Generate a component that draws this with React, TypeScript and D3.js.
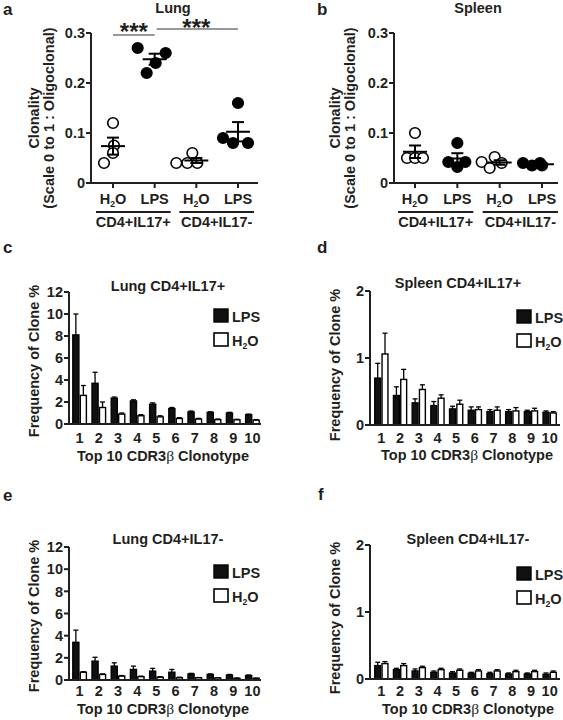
import React from "react";
import * as d3 from "d3";

const FONT = "'Liberation Sans', Arial, Helvetica, sans-serif";
const SERIF = "'Liberation Serif', 'DejaVu Serif', serif";
const FS = 14.5;

// ---------- Panel a / b : clonality scatter ----------
const scatterGroups = ["H2O", "LPS", "H2O", "LPS"];
const subsetLabels = ["CD4+IL17+", "CD4+IL17-"];
const clonalityTicks = [0, 0.1, 0.2, 0.3];
const lungClonality = [
  [0.12, 0.075, 0.06, 0.04],
  [0.27, 0.26, 0.24, 0.22],
  [0.06, 0.04, 0.04, 0.04],
  [0.16, 0.09, 0.08, 0.08],
];
const lungJitter = [
  [0, 1, 0, -9],
  [-17, 11, 1, -8],
  [-4, -20, -9, 1],
  [0, -15, -5, 10],
];
const spleenClonality = [
  [0.1, 0.05, 0.05, 0.05],
  [0.08, 0.042, 0.032, 0.042],
  [0.042, 0.052, 0.03, 0.04],
  [0.04, 0.035, 0.04, 0.035],
];
const spleenJitter = [
  [0, -8, 0, 8],
  [0, -9, 0, 8],
  [-18, -5, -10, 2],
  [-19, -10, -2, 0],
];

// ---------- Panels c-f : top 10 clonotypes ----------
const clonotypes = [1, 2, 3, 4, 5, 6, 7, 8, 9, 10];
const lungPosLPS = [8.1, 3.7, 2.35, 2.1, 1.8, 1.4, 1.1, 1.05, 1.0, 0.85];
const lungPosLPSErr = [1.9, 1.0, 0.1, 0.1, 0.12, 0.1, 0.08, 0.06, 0.06, 0.05];
const lungPosH2O = [2.6, 1.5, 0.9, 0.75, 0.65, 0.5, 0.45, 0.4, 0.38, 0.35];
const lungPosH2OErr = [0.9, 0.5, 0.1, 0.1, 0.1, 0.08, 0.06, 0.05, 0.05, 0.05];

const spleenPosLPS = [0.7, 0.44, 0.33, 0.29, 0.24, 0.22, 0.2, 0.2, 0.2, 0.19];
const spleenPosLPSErr = [0.22, 0.13, 0.06, 0.06, 0.04, 0.05, 0.03, 0.03, 0.02, 0.02];
const spleenPosH2O = [1.06, 0.68, 0.53, 0.4, 0.31, 0.23, 0.22, 0.21, 0.21, 0.18];
const spleenPosH2OErr = [0.31, 0.15, 0.07, 0.05, 0.06, 0.04, 0.05, 0.05, 0.04, 0.02];

const lungNegLPS = [3.4, 1.7, 1.25, 0.95, 0.8, 0.7, 0.55, 0.5, 0.45, 0.4];
const lungNegLPSErr = [1.1, 0.35, 0.3, 0.3, 0.25, 0.25, 0.05, 0.05, 0.05, 0.05];
const lungNegH2O = [0.7, 0.5, 0.35, 0.3, 0.25, 0.2, 0.2, 0.18, 0.15, 0.15];
const lungNegH2OErr = [0.05, 0.05, 0.05, 0.05, 0.05, 0.05, 0.02, 0.02, 0.03, 0.02];

const spleenNegLPS = [0.2, 0.14, 0.12, 0.1, 0.09, 0.085, 0.08, 0.075, 0.075, 0.07];
const spleenNegLPSErr = [0.05, 0.02, 0.03, 0.02, 0.02, 0.015, 0.02, 0.015, 0.015, 0.02];
const spleenNegH2O = [0.23, 0.2, 0.17, 0.14, 0.13, 0.12, 0.12, 0.11, 0.11, 0.1];
const spleenNegH2OErr = [0.03, 0.03, 0.02, 0.02, 0.02, 0.02, 0.02, 0.02, 0.02, 0.02];

const lungTicks = [0, 2, 4, 6, 8, 10, 12];
const spleenTicks = [0, 1, 2];

const textStyle = { fontFamily: FONT, fontWeight: "bold" as const, fill: "#231f20" };

function H2O({ x, y, size = FS, anchor = "middle" }: { x: number; y: number; size?: number; anchor?: string }) {
  return (
    <text x={x} y={y} fontSize={size} textAnchor={anchor} style={textStyle}>
      H
      <tspan fontSize={size * 0.6} dy={3}>2</tspan>
      <tspan dy={-3}>O</tspan>
    </text>
  );
}

function ScatterPanel(props: {
  x0: number; xEnd: number; yTopPx: number; y0Px: number; first: number; last: number;
  values: number[][]; jitter: number[][]; title: string; titleX: number; letter: string; letterX: number;
  labelX1: number; labelX2: number; labelY: number; sig?: boolean;
}) {
  const { x0, xEnd, yTopPx, y0Px, first, last, values, jitter } = props;
  const y = d3.scaleLinear().domain([0, 0.3]).range([y0Px, yTopPx]);
  const keys = scatterGroups.map((g, i) => `${g}${i}`);
  const x = d3.scalePoint<string>().domain(keys).range([first, last]);
  const stroke = "#231f20";
  return (
    <g>
      <text x={props.letterX} y={15} fontSize={17} style={textStyle}>{props.letter}</text>
      <text x={props.titleX} y={13} fontSize={FS} textAnchor="middle" style={textStyle}>{props.title}</text>
      {/* y axis */}
      <line x1={x0} x2={x0} y1={yTopPx} y2={y0Px} stroke={stroke} strokeWidth={2} />
      {clonalityTicks.map((t) => (
        <g key={t}>
          <line x1={x0 - 5} x2={x0} y1={y(t)} y2={y(t)} stroke={stroke} strokeWidth={2} />
          <text x={x0 - 6} y={y(t) + 5.2} fontSize={FS} textAnchor="end" style={textStyle}>
            {t === 0 ? "0" : d3.format(".1f")(t)}
          </text>
        </g>
      ))}
      {/* x axis */}
      <line x1={x0 - 1} x2={xEnd} y1={y0Px} y2={y0Px} stroke={stroke} strokeWidth={2} />
      {keys.map((k, i) => (
        <g key={k}>
          <line x1={x(k)!} x2={x(k)!} y1={y0Px} y2={y0Px + 5} stroke={stroke} strokeWidth={2} />
          {scatterGroups[i] === "H2O" ? (
            <H2O x={x(k)!} y={204} />
          ) : (
            <text x={x(k)!} y={204} fontSize={FS} textAnchor="middle" style={textStyle}>{scatterGroups[i]}</text>
          )}
        </g>
      ))}
      {[0, 1].map((s) => {
        const a = x(keys[s * 2])! - 17;
        const b = x(keys[s * 2 + 1])! + 16;
        return (
          <g key={s}>
            <line x1={a} x2={b} y1={212} y2={212} stroke={stroke} strokeWidth={2} />
            <text x={(a + b) / 2} y={227} fontSize={FS} textAnchor="middle" style={textStyle}>{subsetLabels[s]}</text>
          </g>
        );
      })}
      {/* y label */}
      <text transform={`translate(${props.labelX1},${props.labelY}) rotate(-90)`} fontSize={FS} textAnchor="middle" style={textStyle}>Clonality</text>
      <text transform={`translate(${props.labelX2},${props.labelY}) rotate(-90)`} fontSize={FS} textAnchor="middle" style={textStyle}>(Scale 0 to 1 : Oligoclonal)</text>
      {/* points */}
      {values.map((grp, gi) => {
        const cx = x(keys[gi])!;
        const mean = d3.mean(grp)!;
        const sem = d3.deviation(grp)! / Math.sqrt(grp.length);
        const open = scatterGroups[gi] === "H2O";
        return (
          <g key={gi}>
            {grp.map((v, pi) => (
              <circle key={pi} cx={cx + jitter[gi][pi]} cy={y(v)} r={5.3}
                fill={open ? "#fff" : "#000"} stroke="#000" strokeWidth={1.6} />
            ))}
            <line x1={cx - 12} x2={cx + 12} y1={y(mean)} y2={y(mean)} stroke="#000" strokeWidth={2} />
            <line x1={cx} x2={cx} y1={y(mean + sem)} y2={y(mean - sem)} stroke="#000" strokeWidth={2} />
            <line x1={cx - 6} x2={cx + 6} y1={y(mean + sem)} y2={y(mean + sem)} stroke="#000" strokeWidth={2} />
            <line x1={cx - 6} x2={cx + 6} y1={y(mean - sem)} y2={y(mean - sem)} stroke="#000" strokeWidth={2} />
          </g>
        );
      })}
      {props.sig && (
        <g>
          <line x1={x(keys[0])!} x2={x(keys[1])!} y1={y(0.296)} y2={y(0.296)} stroke="#333" strokeWidth={1} />
          <text x={(x(keys[0])! + x(keys[1])!) / 2} y={y(0.296) + 5} fontSize={24} textAnchor="middle" style={textStyle}>***</text>
          <line x1={x(keys[1])! + 2} x2={x(keys[3])!} y1={y(0.308)} y2={y(0.308)} stroke="#333" strokeWidth={1} />
          <text x={x(keys[2])!} y={y(0.308) + 6.5} fontSize={24} textAnchor="middle" style={textStyle}>***</text>
        </g>
      )}
    </g>
  );
}

function BarPanel(props: {
  x0: number; xEnd: number; bandRange: [number, number]; yTopPx: number; y0Px: number; yMax: number; ticks: number[];
  lps: number[]; lpsErr: number[]; h2o: number[]; h2oErr: number[];
  title: string; titleX: number; titleY: number; letter: string; letterX: number; letterY: number;
  legendX: number; legendY1: number; legendY2: number; tickY: number; xlabelX: number; xlabelY: number;
  ylabelX: number; ylabelY: number;
}) {
  const { x0, xEnd, yTopPx, y0Px } = props;
  const y = d3.scaleLinear().domain([0, props.yMax]).range([y0Px, yTopPx]);
  const xb = d3.scaleBand<number>().domain(clonotypes).range(props.bandRange).paddingInner(0.22).paddingOuter(0.11);
  const bw = xb.bandwidth() / 2;
  const stroke = "#231f20";
  const bar = (c: number, v: number, e: number, dark: boolean, off: number) => {
    const bx = xb(c)! + off;
    const cx = bx + bw / 2;
    return (
      <g key={`${c}-${dark}`}>
        <line x1={cx} x2={cx} y1={y(v)} y2={y(v + e)} stroke="#000" strokeWidth={1.3} />
        <line x1={cx - 2.5} x2={cx + 2.5} y1={y(v + e)} y2={y(v + e)} stroke="#000" strokeWidth={1.3} />
        <rect x={bx + 0.7} y={y(v)} width={bw - 1.4} height={y0Px - y(v)} fill={dark ? "#111" : "#fff"} stroke="#000" strokeWidth={1.4} />
      </g>
    );
  };
  return (
    <g>
      <text x={props.letterX} y={props.letterY} fontSize={17} style={textStyle}>{props.letter}</text>
      <text x={props.titleX} y={props.titleY} fontSize={FS} textAnchor="middle" style={textStyle}>{props.title}</text>
      {clonotypes.map((c, i) => bar(c, props.lps[i], props.lpsErr[i], true, 0))}
      {clonotypes.map((c, i) => bar(c, props.h2o[i], props.h2oErr[i], false, bw))}
      <line x1={x0} x2={x0} y1={yTopPx} y2={y0Px} stroke={stroke} strokeWidth={2} />
      <line x1={x0 - 1} x2={xEnd} y1={y0Px} y2={y0Px} stroke={stroke} strokeWidth={2} />
      {props.ticks.map((t) => (
        <g key={t}>
          <line x1={x0 - 5} x2={x0} y1={y(t)} y2={y(t)} stroke={stroke} strokeWidth={2} />
          <text x={x0 - 6} y={y(t) + 5.2} fontSize={FS} textAnchor="end" style={textStyle}>{t}</text>
        </g>
      ))}
      {clonotypes.map((c) => (
        <text key={c} x={xb(c)! + xb.bandwidth() / 2} y={props.tickY} fontSize={FS} textAnchor="middle" style={textStyle}>{c}</text>
      ))}
      <text x={props.xlabelX} y={props.xlabelY} fontSize={FS} textAnchor="middle" style={textStyle}>
        Top 10 CDR3<tspan fontFamily={SERIF} fontWeight="normal" fontSize={FS + 1}>β</tspan> Clonotype
      </text>
      <text transform={`translate(${props.ylabelX},${props.ylabelY}) rotate(-90)`} fontSize={FS} textAnchor="middle" style={textStyle}>Frequency of Clone %</text>
      {/* legend */}
      <rect x={props.legendX} y={props.legendY1} width={14} height={13} fill="#111" stroke="#000" strokeWidth={1.4} />
      <text x={props.legendX + 18} y={props.legendY1 + 12.5} fontSize={FS} style={textStyle}>LPS</text>
      <rect x={props.legendX} y={props.legendY2} width={14} height={13} fill="#fff" stroke="#000" strokeWidth={1.6} />
      <H2O x={props.legendX + 18} y={props.legendY2 + 12.5} anchor="start" />
    </g>
  );
}

export default function App() {
  return (
    <svg width={563} height={720} style={{ position: "absolute", left: 0, top: 0, background: "#fff" }}>
      <rect width={563} height={720} fill="#fff" />
      <ScatterPanel x0={91} xEnd={258} yTopPx={33} y0Px={183} first={113} last={238}
        values={lungClonality} jitter={lungJitter} title="Lung" titleX={173} letter="a" letterX={3}
        labelX1={39} labelX2={54} labelY={118} sig />
      <ScatterPanel x0={394} xEnd={558} yTopPx={33} y0Px={183} first={415} last={542}
        values={spleenClonality} jitter={spleenJitter} title="Spleen" titleX={478} letter="b" letterX={317}
        labelX1={340} labelX2={355} labelY={118} />
      <BarPanel x0={69} xEnd={261} bandRange={[70, 262]} yTopPx={292} y0Px={424} yMax={12} ticks={lungTicks}
        lps={lungPosLPS} lpsErr={lungPosLPSErr} h2o={lungPosH2O} h2oErr={lungPosH2OErr}
        title="Lung CD4+IL17+" titleX={168} titleY={291} letter="c" letterX={3} letterY={253}
        legendX={214} legendY1={309} legendY2={333} tickY={443} xlabelX={163} xlabelY={461}
        ylabelX={39} ylabelY={361} />
      <BarPanel x0={370} xEnd={560} bandRange={[372, 559]} yTopPx={291} y0Px={425} yMax={2} ticks={spleenTicks}
        lps={spleenPosLPS} lpsErr={spleenPosLPSErr} h2o={spleenPosH2O} h2oErr={spleenPosH2OErr}
        title="Spleen CD4+IL17+" titleX={458} titleY={288} letter="d" letterX={317} letterY={253}
        legendX={517} legendY1={310} legendY2={334} tickY={443} xlabelX={467} xlabelY={460}
        ylabelX={340} ylabelY={365} />
      <BarPanel x0={69} xEnd={261} bandRange={[70, 262]} yTopPx={547} y0Px={680} yMax={12} ticks={lungTicks}
        lps={lungNegLPS} lpsErr={lungNegLPSErr} h2o={lungNegH2O} h2oErr={lungNegH2OErr}
        title="Lung CD4+IL17-" titleX={168} titleY={544} letter="e" letterX={3} letterY={501}
        legendX={214} legendY1={565} legendY2={589} tickY={696} xlabelX={163} xlabelY={714}
        ylabelX={39} ylabelY={616} />
      <BarPanel x0={370} xEnd={560} bandRange={[372, 559]} yTopPx={545} y0Px={679} yMax={2} ticks={spleenTicks}
        lps={spleenNegLPS} lpsErr={spleenNegLPSErr} h2o={spleenNegH2O} h2oErr={spleenNegH2OErr}
        title="Spleen CD4+IL17-" titleX={468} titleY={544} letter="f" letterX={318} letterY={500}
        legendX={517} legendY1={567} legendY2={591} tickY={696} xlabelX={468} xlabelY={714}
        ylabelX={340} ylabelY={618} />
    </svg>
  );
}
